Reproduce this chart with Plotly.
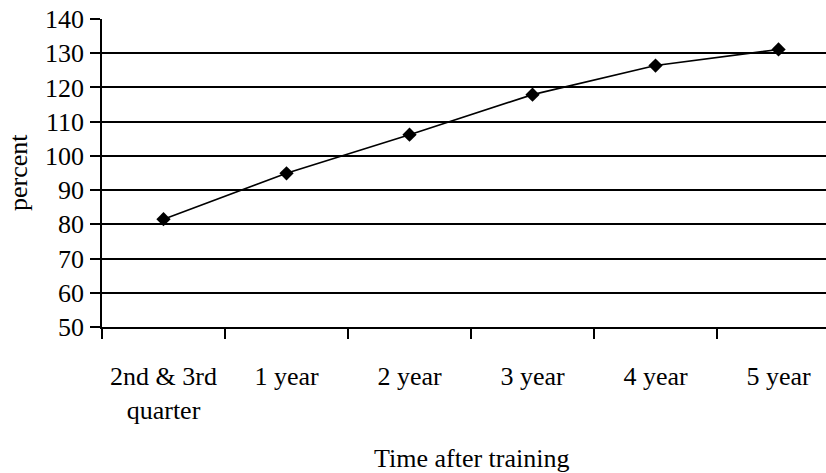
import plotly.graph_objects as go

# Share of baseline (percent) at each period after training
periods = ["2nd & 3rd<br>quarter", "1 year", "2 year", "3 year", "4 year", "5 year"]
percent = [81.5, 94.9, 106.2, 117.9, 126.4, 131.1]

y_ticks = list(range(50, 141, 10))

FONT = "Liberation Serif, Times New Roman, serif"
W, H = 826, 473
L, T, B = 102, 19, 146
LW = 1.7

fig = go.Figure(
    go.Scatter(
        x=periods,
        y=percent,
        mode="lines+markers",
        line=dict(color="black", width=1.6),
        marker=dict(symbol="diamond", size=11, color="black"),
        showlegend=False,
        hoverinfo="x+y",
    )
)

fig.update_layout(
    width=W,
    height=H,
    margin=dict(l=L, r=0, t=T, b=B),
    paper_bgcolor="white",
    plot_bgcolor="white",
    font=dict(family=FONT, size=26, color="black"),
    xaxis=dict(
        type="category",
        categoryorder="array",
        categoryarray=periods,
        range=[-0.5, 5.386],
        tickson="boundaries",
        ticks="outside",
        ticklen=10,
        tickwidth=LW,
        tickcolor="black",
        showgrid=False,
        showline=True,
        linecolor="black",
        linewidth=LW,
        zeroline=False,
        ticklabelstandoff=25,
        tickfont=dict(family=FONT, size=26, color="black"),
    ),
    yaxis=dict(
        range=[50, 140],
        tickvals=y_ticks,
        ticks="outside",
        ticklen=10,
        tickwidth=LW,
        tickcolor="black",
        showgrid=True,
        gridcolor="black",
        gridwidth=LW,
        showline=True,
        linecolor="black",
        linewidth=LW,
        zeroline=False,
        ticklabelstandoff=1,
        tickfont=dict(family=FONT, size=26, color="black"),
    ),
    annotations=[
        dict(
            text="Time after training",
            xref="x",
            yref="paper",
            x=2.5,
            y=-(458 - (H - B)) / (H - T - B),
            xanchor="center",
            yanchor="middle",
            showarrow=False,
            font=dict(family=FONT, size=26, color="black"),
        ),
        dict(
            text="percent",
            xref="paper",
            yref="paper",
            x=-(L - 18) / (W - L),
            y=0.5,
            xanchor="center",
            yanchor="middle",
            textangle=-90,
            showarrow=False,
            font=dict(family=FONT, size=26, color="black"),
        ),
    ],
)

fig.write_html("out.html")
